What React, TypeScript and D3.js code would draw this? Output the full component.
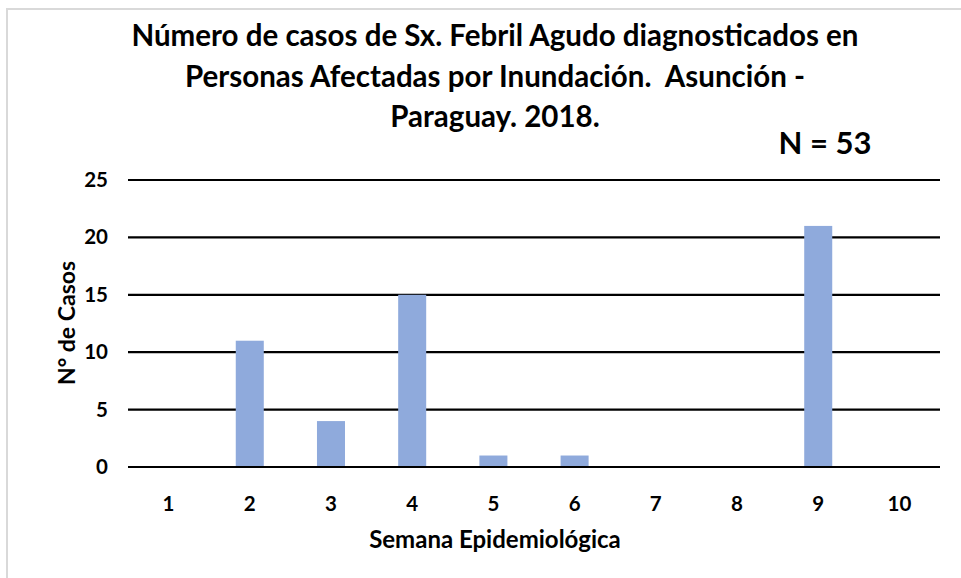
import React, { useEffect, useRef } from 'react';
import * as d3 from 'd3';

const weeks = ['1', '2', '3', '4', '5', '6', '7', '8', '9', '10'];
const cases = [0, 11, 4, 15, 1, 1, 0, 0, 21, 0];
const yTicks = [0, 5, 10, 15, 20, 25];
const titleLines = [
  'Número de casos de Sx. Febril Agudo diagnosticados en',
  'Personas Afectadas por Inundación.  Asunción -',
  'Paraguay. 2018.',
];

const W = 961;
const H = 578;
const FONT = 'Lato, "Open Sans", sans-serif';

const App = () => {
  const svgRef = useRef<SVGSVGElement>(null);

  useEffect(() => {
    const svg = d3.select(svgRef.current);
    svg.selectAll('*').remove();

    const margin = { top: 180, right: 21, bottom: 111, left: 128 };
    const chartW = W - margin.left - margin.right;
    const chartH = H - margin.top - margin.bottom;

    // outer frame
    svg.append('rect')
      .attr('x', 7).attr('y', 9)
      .attr('width', W).attr('height', H)
      .attr('fill', '#fff')
      .attr('stroke', '#d9d9d9')
      .attr('stroke-width', 2);

    // title
    svg.append('text')
      .attr('font-family', FONT)
      .attr('font-weight', 700)
      .attr('font-size', 29.5)
      .attr('text-anchor', 'middle')
      .attr('fill', '#000')
      .selectAll('tspan')
      .data(titleLines)
      .join('tspan')
      .attr('x', 495)
      .attr('y', (d, i) => 46 + i * 40.5)
      .style('white-space', 'pre')
      .text(d => d);

    svg.append('text')
      .attr('x', 825).attr('y', 154)
      .attr('font-family', FONT)
      .attr('font-weight', 700)
      .attr('font-size', 31)
      .attr('text-anchor', 'middle')
      .text('N = 53');

    const x = d3.scaleBand()
      .domain(weeks)
      .range([0, chartW])
      .paddingInner(0.655)
      .paddingOuter(0.327);

    const y = d3.scaleLinear()
      .domain([0, 25])
      .range([chartH, 0]);

    const chart = svg.append('g')
      .attr('transform', `translate(${margin.left}, ${margin.top})`);

    // gridlines
    chart.append('g')
      .selectAll('line')
      .data(yTicks)
      .join('line')
      .attr('x1', 0).attr('x2', chartW)
      .attr('y1', d => y(d)).attr('y2', d => y(d))
      .attr('stroke', '#000')
      .attr('stroke-width', 2.2);

    // bars
    chart.append('g')
      .selectAll('rect')
      .data(weeks)
      .join('rect')
      .attr('x', d => x(d)!)
      .attr('y', (d, i) => y(cases[i]))
      .attr('width', x.bandwidth())
      .attr('height', (d, i) => chartH - y(cases[i]) - 1)
      .attr('fill', '#8faadc');

    // y tick labels
    chart.append('g')
      .selectAll('text')
      .data(yTicks)
      .join('text')
      .attr('x', -20)
      .attr('y', d => y(d) + 7)
      .attr('text-anchor', 'end')
      .attr('font-family', FONT)
      .attr('font-weight', 700)
      .attr('font-size', 20.5)
      .text(d => d);

    // x tick labels
    chart.append('g')
      .selectAll('text')
      .data(weeks)
      .join('text')
      .attr('x', d => x(d)! + x.bandwidth() / 2)
      .attr('y', chartH + 44)
      .attr('text-anchor', 'middle')
      .attr('font-family', FONT)
      .attr('font-weight', 700)
      .attr('font-size', 20.5)
      .text(d => d);

    // axis titles
    svg.append('text')
      .attr('x', 495).attr('y', 548)
      .attr('text-anchor', 'middle')
      .attr('font-family', FONT)
      .attr('font-weight', 700)
      .attr('font-size', 24)
      .text('Semana Epidemiológica');

    svg.append('text')
      .attr('transform', 'translate(75, 323) rotate(-90)')
      .attr('text-anchor', 'middle')
      .attr('font-family', FONT)
      .attr('font-weight', 700)
      .attr('font-size', 23)
      .text('N° de Casos');
  }, []);

  return (
    <svg
      ref={svgRef}
      width={W}
      height={H}
      style={{ position: 'absolute', left: 0, top: 0 }}
    />
  );
};

export default App;
